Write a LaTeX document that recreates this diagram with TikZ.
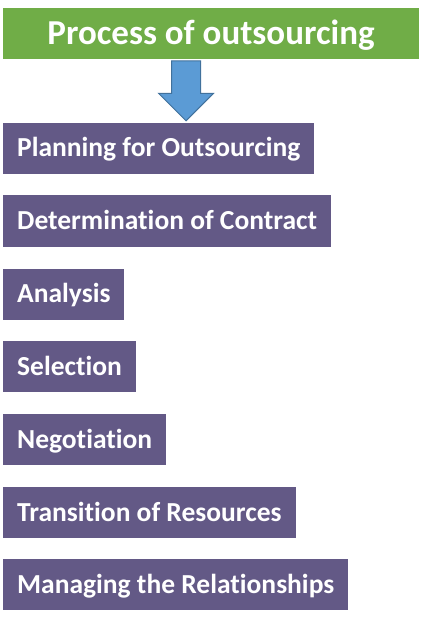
\documentclass[tikz,border=0pt]{standalone}
\usepackage{fontspec}
\setmainfont[Ligatures=NoCommon]{Carlito}
\usetikzlibrary{shapes.arrows}
\definecolor{titlegreen}{RGB}{112,173,71}
\definecolor{stepviolet}{RGB}{99,89,134}
\definecolor{arrowblue}{RGB}{91,155,213}
\definecolor{arrowedge}{RGB}{65,113,156}

\begin{document}
\begin{tikzpicture}[x=1pt, y=-1pt,
        heading/.style={fill=titlegreen, text=white, font=\fontsize{35}{42}\selectfont\bfseries,
            minimum width=416pt, minimum height=51pt, inner sep=0pt, text height=22pt, text depth=0pt},
        stepbox/.style={fill=stepviolet, text=white, font=\fontsize{27.5}{33}\selectfont\bfseries,
            anchor=west, minimum height=51pt, inner xsep=14pt, inner ysep=0pt, text height=17pt, text depth=0pt},
        blockarrow/.style={single arrow, shape border rotate=270, fill=arrowblue, draw=arrowedge, line width=1pt,
            minimum height=60pt, minimum width=54pt, single arrow head extend=13pt, inner sep=14pt}]
    \useasboundingbox (0, 0) rectangle (425, 617);

    \node (title) at (211, 33.5) [heading] {Process of outsourcing};

    \node (plan) at (3, 148.5) [stepbox] {Planning for Outsourcing};
    \node (contract) at (3, 221) [stepbox] {Determination of Contract};
    \node (analysis) at (3, 294) [stepbox] {Analysis};
    \node (selection) at (3, 366.5) [stepbox] {Selection};
    \node (negotiation) at (3, 439.5) [stepbox] {Negotiation};
    \node (transition) at (3, 512.5) [stepbox] {Transition of Resources};
    \node (managing) at (3, 584.5) [stepbox] {Managing the Relationships};

    \node (down) at (186, 121.5) [blockarrow, anchor=tip] {};
\end{tikzpicture}
\end{document}
